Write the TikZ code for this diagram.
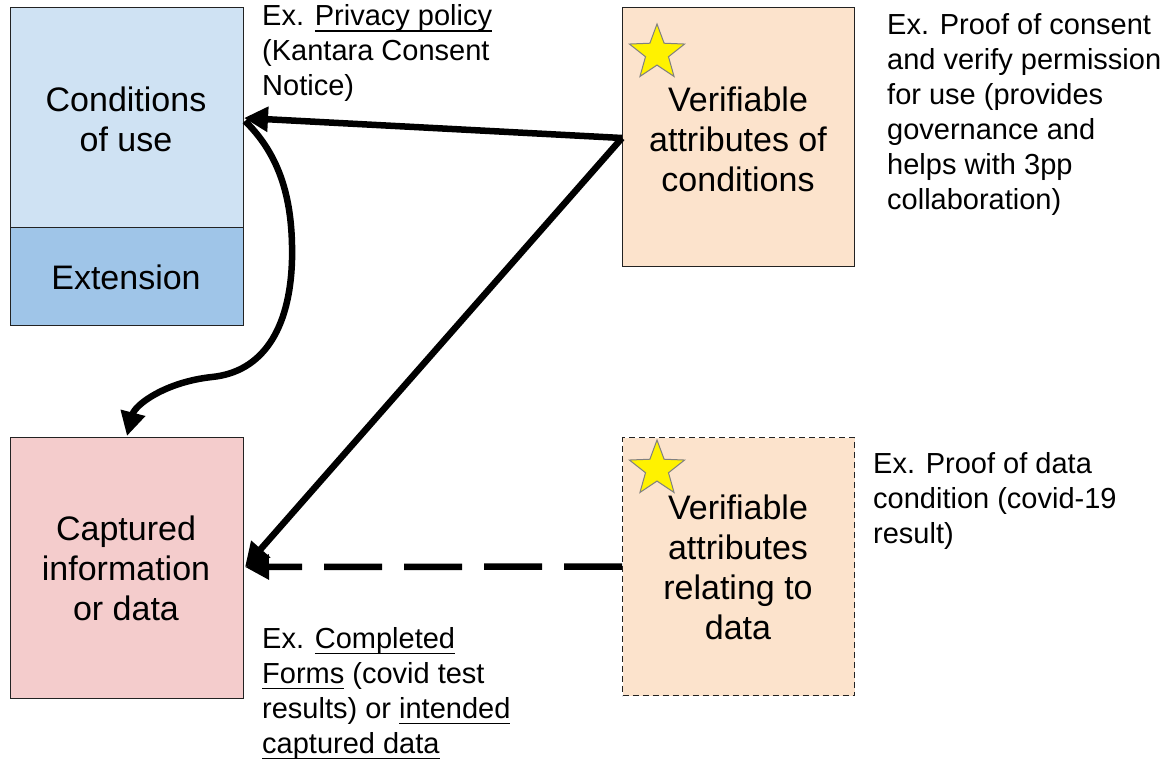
\documentclass[tikz,border=0pt]{standalone}
\usepackage{fontspec}
\setmainfont{Liberation Sans}
\newcommand{\ulx}[1]{\setbox0\hbox{#1}\rlap{\rule[-6pt]{\wd0}{1.5pt}}\box0\relax}
\usetikzlibrary{arrows.meta,shapes.geometric}
\definecolor{lightblue}{HTML}{CFE2F3}
\definecolor{midblue}{HTML}{9FC5E8}
\definecolor{peach}{HTML}{FCE3CC}
\definecolor{pink}{HTML}{F4CCCC}
\definecolor{boxline}{HTML}{222222}
\tikzset{
  box/.style={draw=boxline,line width=1.2pt,inner sep=0pt,anchor=north west},
  boxtext/.style={align=center,font=\fontsize{34}{40}\selectfont,inner sep=0pt},
  sidetext/.style={align=left,font=\fontsize{29}{35}\selectfont,inner sep=0pt,anchor=base west},
  starmark/.style={star,star points=5,star point ratio=2.4,minimum size=58pt,inner sep=0pt,fill=yellow,draw=gray,line width=1pt},
  conn/.style={line width=6.5pt,-{Triangle[length=24pt,width=24pt]}},
}
\begin{document}
\begin{tikzpicture}[x=1pt,y=-1pt]
\useasboundingbox (0,0) rectangle (1167,759);
% boxes
\node[box,fill=lightblue,minimum width=233pt,minimum height=220pt] (cou) at (10,7) {};
\node[box,fill=midblue,minimum width=233pt,minimum height=98pt] (ext) at (10,227) {};
\node[box,fill=peach,minimum width=232pt,minimum height=259pt] (vc) at (622,7) {};
\node[box,fill=pink,minimum width=233pt,minimum height=261pt] (cap) at (10,437) {};
\node[box,fill=peach,dash pattern=on 6pt off 4pt,minimum width=232pt,minimum height=258pt] (vd) at (622,437) {};
% box texts
\node[boxtext] (couT) at (126,119) {Conditions\\of use};
\node[boxtext] (extT) at (126,277) {Extension};
\node[boxtext] (vcT) at (738,139) {Verifiable\\attributes of\\conditions};
\node[boxtext] (capT) at (126,568) {Captured\\information\\or data};
\node[boxtext] (vdT) at (738,567) {Verifiable\\attributes\\relating to\\data};
% stars
\node[starmark] (s1) at (657,53) {};
\node[starmark] (s2) at (657,469) {};
% side texts (anchored at the baseline of their last line)
\node[sidetext] (t1) at (262,96) {Ex. \ulx{Privacy policy}\\(Kantara Consent\\Notice)};
\node[sidetext] (t2) at (887,210) {Ex. Proof of consent\\and verify permission\\for use (provides\\governance and\\helps with 3pp\\collaboration)};
\node[sidetext] (t3) at (873,543) {Ex. Proof of data\\condition (covid-19\\result)};
\node[sidetext] (t4) at (262,753) {Ex. \ulx{Completed}\\\ulx{Forms} (covid test\\results) or \ulx{intended}\\\ulx{captured data}};
% connectors
\coordinate (vcout) at (622,138);
\coordinate (couin) at (244,118);
\coordinate (capin) at (245,567);
\coordinate (capnorth) at (127,436);
\draw[conn] (vcout) -- (couin);
\draw[conn] (vcout) -- (capin);
\draw[conn,dash pattern=on 58pt off 22pt] (vd.west) -- (capin);
\draw[conn] (245,121) .. controls (285,160) and (293,210) .. (292,260)
  .. controls (290,330) and (262,372) .. (212,377)
  .. controls (165,382) and (135,405) .. (capnorth);
\end{tikzpicture}
\end{document}
